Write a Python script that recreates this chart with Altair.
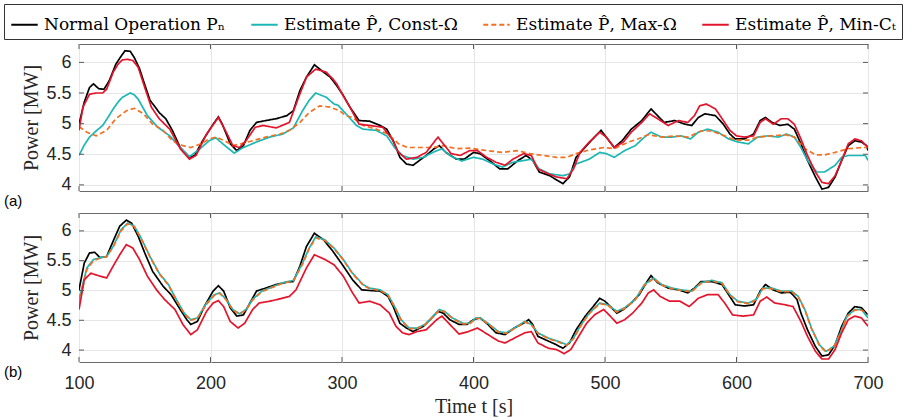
import altair as alt
import pandas as pd

# ---------------- data ----------------
SERIES = ["Normal Operation Pₙ", "Estimate P̂, Const-Ω", "Estimate P̂, Max-Ω", "Estimate P̂, Min-Cₜ"]
COLORS = ["#000000", "#1bb7b4", "#f4701e", "#e3142b"]
DASHES = [[1, 0], [1, 0], [5, 3], [1, 0]]
X_TICKS = [100, 200, 300, 400, 500, 600, 700]
Y_TICKS = [4, 4.5, 5, 5.5, 6]

# Panel (a)
a_norm_t = [100, 104, 108, 111, 115, 119, 123, 128, 132, 135, 139, 142, 146, 149, 154, 158, 161, 166, 171, 177, 184, 188, 194, 202, 206, 209, 215, 220, 225, 230, 235, 242, 250, 258, 263, 268, 273, 279, 286, 291, 296, 301, 306, 313, 321, 329, 334, 339, 344, 349, 354, 359, 364, 370, 374, 379, 387, 393, 400, 405, 412, 420, 426, 434, 440, 445, 450, 458, 464, 468, 473, 478, 486, 492, 497, 502, 507, 513, 520, 528, 535, 540, 545, 553, 561, 566, 571, 576, 584, 590, 595, 599, 606, 613, 618, 622, 627, 633, 639, 644, 649, 654, 660, 665, 670, 675, 680, 685, 690, 695, 699, 700]
a_norm_p = [4.99, 5.35, 5.59, 5.65, 5.57, 5.56, 5.70, 5.97, 6.10, 6.19, 6.18, 6.08, 5.90, 5.70, 5.38, 5.27, 5.18, 5.08, 4.89, 4.61, 4.45, 4.48, 4.72, 4.99, 5.11, 4.99, 4.67, 4.56, 4.64, 4.89, 5.02, 5.05, 5.08, 5.13, 5.21, 5.54, 5.76, 5.96, 5.84, 5.76, 5.62, 5.46, 5.27, 5.05, 5.04, 4.97, 4.91, 4.72, 4.45, 4.34, 4.32, 4.40, 4.48, 4.59, 4.64, 4.53, 4.42, 4.42, 4.53, 4.51, 4.40, 4.26, 4.26, 4.40, 4.48, 4.40, 4.21, 4.15, 4.07, 4.02, 4.13, 4.45, 4.64, 4.78, 4.89, 4.75, 4.61, 4.72, 4.91, 5.05, 5.24, 5.13, 5.02, 5.05, 4.99, 4.97, 5.10, 5.16, 5.13, 4.99, 4.83, 4.75, 4.75, 4.83, 5.05, 5.10, 5.02, 4.97, 4.99, 4.91, 4.67, 4.40, 4.13, 3.93, 3.96, 4.13, 4.40, 4.64, 4.72, 4.70, 4.64, 4.56]

a_const_t = [100, 104, 108, 113, 118, 122, 126, 130, 133, 139, 142, 145, 152, 160, 169, 177, 184, 192, 199, 204, 211, 218, 225, 235, 245, 255, 263, 270, 275, 280, 288, 294, 297, 303, 311, 316, 326, 334, 340, 346, 354, 362, 369, 376, 382, 391, 400, 407, 415, 422, 430, 439, 444, 450, 458, 468, 473, 478, 488, 496, 501, 507, 515, 523, 530, 535, 543, 551, 558, 565, 571, 578, 586, 594, 601, 609, 616, 624, 632, 638, 644, 649, 654, 661, 667, 675, 680, 685, 693, 698, 700]
a_const_p = [4.48, 4.65, 4.78, 4.88, 4.97, 5.10, 5.24, 5.36, 5.43, 5.50, 5.47, 5.40, 5.13, 4.94, 4.80, 4.61, 4.46, 4.59, 4.72, 4.77, 4.64, 4.52, 4.61, 4.70, 4.78, 4.83, 4.93, 5.21, 5.38, 5.50, 5.43, 5.32, 5.30, 5.16, 4.97, 4.91, 4.89, 4.80, 4.61, 4.48, 4.42, 4.45, 4.53, 4.59, 4.48, 4.39, 4.45, 4.42, 4.34, 4.29, 4.37, 4.40, 4.42, 4.26, 4.18, 4.15, 4.18, 4.34, 4.42, 4.53, 4.51, 4.45, 4.56, 4.64, 4.78, 4.86, 4.78, 4.78, 4.80, 4.75, 4.86, 4.91, 4.86, 4.75, 4.70, 4.67, 4.78, 4.80, 4.78, 4.83, 4.78, 4.61, 4.40, 4.21, 4.21, 4.32, 4.45, 4.48, 4.48, 4.48, 4.40]

a_max_t = [100, 106, 113, 121, 128, 136, 142, 149, 156, 164, 171, 179, 185, 193, 199, 204, 211, 217, 223, 232, 242, 253, 260, 268, 275, 283, 291, 298, 303, 308, 316, 326, 335, 343, 350, 359, 369, 377, 387, 397, 410, 422, 433, 443, 453, 463, 471, 478, 488, 499, 507, 518, 525, 533, 543, 553, 563, 573, 581, 591, 599, 609, 616, 627, 637, 644, 652, 660, 667, 675, 685, 695, 700]
a_max_p = [4.95, 4.86, 4.80, 4.89, 5.08, 5.21, 5.25, 5.16, 4.99, 4.89, 4.72, 4.64, 4.61, 4.67, 4.75, 4.78, 4.72, 4.64, 4.67, 4.72, 4.78, 4.83, 4.89, 5.02, 5.18, 5.29, 5.27, 5.21, 5.13, 5.10, 4.97, 4.91, 4.83, 4.67, 4.61, 4.61, 4.61, 4.64, 4.59, 4.60, 4.56, 4.53, 4.56, 4.51, 4.48, 4.45, 4.45, 4.51, 4.57, 4.61, 4.59, 4.70, 4.75, 4.82, 4.78, 4.80, 4.78, 4.88, 4.88, 4.80, 4.73, 4.73, 4.78, 4.80, 4.82, 4.78, 4.59, 4.49, 4.49, 4.53, 4.59, 4.61, 4.61]

a_minct_t = [100, 103, 108, 113, 118, 121, 126, 130, 133, 137, 141, 145, 150, 155, 161, 169, 177, 184, 189, 197, 206, 212, 217, 222, 227, 234, 240, 250, 260, 267, 273, 280, 288, 293, 296, 301, 306, 313, 321, 331, 338, 343, 349, 357, 364, 369, 373, 377, 383, 390, 397, 403, 410, 417, 424, 430, 438, 444, 449, 457, 463, 471, 476, 481, 488, 496, 501, 507, 514, 520, 528, 534, 540, 548, 556, 563, 568, 572, 577, 584, 590, 595, 600, 606, 613, 618, 622, 628, 634, 639, 644, 649, 654, 660, 665, 670, 675, 680, 685, 690, 695, 700]
a_minct_p = [4.89, 5.27, 5.48, 5.50, 5.50, 5.56, 5.84, 5.98, 6.04, 6.05, 6.03, 5.92, 5.59, 5.27, 5.08, 4.91, 4.59, 4.42, 4.48, 4.83, 5.10, 4.86, 4.64, 4.61, 4.72, 4.94, 4.97, 4.93, 5.02, 5.43, 5.76, 5.89, 5.84, 5.73, 5.65, 5.45, 5.27, 4.99, 4.97, 4.94, 4.75, 4.53, 4.42, 4.45, 4.53, 4.67, 4.78, 4.67, 4.51, 4.48, 4.56, 4.56, 4.45, 4.37, 4.32, 4.42, 4.51, 4.48, 4.26, 4.18, 4.13, 4.10, 4.26, 4.53, 4.70, 4.86, 4.78, 4.61, 4.70, 4.86, 5.02, 5.16, 5.08, 4.97, 5.05, 5.02, 5.13, 5.29, 5.32, 5.24, 5.05, 4.89, 4.80, 4.78, 4.80, 5.02, 5.08, 4.99, 5.08, 5.08, 4.99, 4.75, 4.48, 4.21, 4.04, 4.02, 4.15, 4.40, 4.67, 4.75, 4.72, 4.61]

# Panel (b)
b_norm_t = [100, 104, 108, 112, 116, 121, 126, 131, 136, 140, 145, 150, 156, 164, 170, 177, 182, 185, 190, 196, 202, 206, 210, 215, 220, 225, 230, 235, 242, 250, 258, 263, 268, 273, 279, 286, 293, 301, 308, 315, 321, 329, 335, 339, 344, 349, 354, 362, 367, 373, 377, 382, 389, 395, 400, 405, 411, 417, 424, 431, 438, 442, 445, 449, 457, 463, 468, 473, 478, 485, 491, 496, 500, 505, 509, 514, 520, 526, 532, 535, 540, 548, 556, 563, 568, 573, 581, 589, 594, 599, 606, 613, 618, 622, 628, 634, 641, 646, 649, 654, 660, 665, 670, 675, 680, 685, 690, 695, 700]
b_norm_p = [5.01, 5.46, 5.63, 5.64, 5.55, 5.57, 5.83, 6.08, 6.18, 6.13, 5.91, 5.63, 5.32, 5.07, 4.93, 4.68, 4.51, 4.43, 4.48, 4.76, 4.99, 5.08, 4.99, 4.71, 4.57, 4.59, 4.79, 4.99, 5.04, 5.10, 5.14, 5.15, 5.41, 5.74, 5.96, 5.85, 5.66, 5.41, 5.18, 5.01, 5.00, 4.99, 4.90, 4.73, 4.45, 4.37, 4.31, 4.40, 4.51, 4.65, 4.62, 4.51, 4.43, 4.43, 4.51, 4.54, 4.43, 4.29, 4.26, 4.37, 4.45, 4.51, 4.43, 4.23, 4.15, 4.09, 4.03, 4.12, 4.34, 4.57, 4.73, 4.87, 4.82, 4.71, 4.62, 4.68, 4.79, 4.93, 5.15, 5.25, 5.13, 5.04, 5.01, 4.96, 5.04, 5.15, 5.15, 5.10, 4.93, 4.76, 4.74, 4.76, 4.99, 5.10, 5.01, 4.96, 4.97, 4.85, 4.62, 4.34, 4.06, 3.90, 3.92, 4.09, 4.40, 4.62, 4.73, 4.71, 4.59]

b_const_t = [100, 106, 111, 116, 121, 126, 132, 137, 142, 147, 154, 161, 168, 174, 180, 185, 190, 197, 203, 207, 212, 217, 222, 227, 232, 239, 248, 255, 263, 270, 275, 280, 287, 294, 301, 308, 316, 321, 329, 335, 340, 345, 351, 357, 363, 368, 374, 378, 384, 392, 397, 402, 405, 411, 419, 425, 431, 439, 444, 449, 457, 464, 471, 476, 482, 488, 496, 502, 509, 515, 523, 530, 537, 543, 551, 558, 566, 573, 581, 589, 595, 601, 609, 615, 620, 627, 634, 642, 647, 652, 657, 663, 668, 674, 679, 684, 690, 695, 700]
b_const_p = [4.85, 5.38, 5.52, 5.55, 5.57, 5.74, 6.02, 6.13, 6.08, 5.89, 5.57, 5.29, 5.10, 4.85, 4.62, 4.51, 4.54, 4.79, 4.93, 4.96, 4.85, 4.68, 4.61, 4.68, 4.85, 4.99, 5.07, 5.13, 5.17, 5.46, 5.71, 5.90, 5.85, 5.71, 5.52, 5.29, 5.10, 5.04, 5.01, 4.93, 4.73, 4.51, 4.37, 4.37, 4.43, 4.54, 4.68, 4.65, 4.54, 4.45, 4.45, 4.54, 4.54, 4.45, 4.31, 4.29, 4.37, 4.48, 4.43, 4.29, 4.20, 4.15, 4.09, 4.20, 4.43, 4.62, 4.79, 4.76, 4.65, 4.71, 4.85, 5.10, 5.21, 5.10, 5.04, 5.01, 4.99, 5.13, 5.17, 5.13, 4.93, 4.82, 4.79, 4.85, 5.04, 5.04, 4.99, 4.99, 4.90, 4.68, 4.37, 4.09, 3.98, 4.06, 4.29, 4.57, 4.68, 4.68, 4.54]

b_max_t = [100, 106, 111, 116, 121, 126, 132, 137, 142, 147, 154, 161, 168, 174, 180, 185, 190, 197, 203, 207, 212, 217, 222, 227, 232, 239, 248, 255, 263, 270, 275, 280, 287, 294, 301, 308, 316, 321, 329, 335, 340, 345, 351, 357, 363, 368, 374, 378, 384, 392, 397, 402, 405, 411, 419, 425, 431, 439, 444, 449, 457, 464, 471, 476, 482, 488, 496, 502, 509, 515, 523, 530, 537, 543, 551, 558, 566, 573, 581, 589, 595, 601, 609, 615, 620, 627, 634, 642, 647, 652, 657, 663, 668, 674, 679, 684, 690, 695, 700]
b_max_p = [4.78, 5.35, 5.50, 5.54, 5.57, 5.73, 6.00, 6.12, 6.07, 5.88, 5.56, 5.28, 5.09, 4.84, 4.61, 4.50, 4.53, 4.77, 4.92, 4.95, 4.84, 4.67, 4.60, 4.67, 4.84, 4.98, 5.06, 5.12, 5.16, 5.44, 5.70, 5.88, 5.84, 5.70, 5.51, 5.28, 5.09, 5.03, 5.00, 4.92, 4.72, 4.50, 4.36, 4.36, 4.42, 4.53, 4.67, 4.64, 4.53, 4.44, 4.44, 4.53, 4.53, 4.44, 4.30, 4.28, 4.36, 4.47, 4.42, 4.28, 4.19, 4.14, 4.08, 4.19, 4.42, 4.61, 4.78, 4.75, 4.64, 4.70, 4.84, 5.09, 5.20, 5.09, 5.03, 5.00, 4.98, 5.12, 5.16, 5.12, 4.92, 4.81, 4.78, 4.84, 5.03, 5.03, 4.98, 4.98, 4.89, 4.67, 4.36, 4.08, 3.97, 4.05, 4.28, 4.56, 4.67, 4.67, 4.60]

b_minct_t = [100, 104, 109, 116, 121, 126, 131, 136, 141, 146, 152, 159, 165, 173, 179, 185, 190, 197, 202, 206, 210, 215, 221, 226, 232, 237, 245, 253, 260, 265, 273, 279, 287, 294, 301, 308, 313, 321, 329, 336, 341, 346, 351, 357, 364, 372, 376, 382, 389, 396, 403, 411, 419, 424, 431, 439, 444, 449, 457, 463, 469, 474, 480, 486, 492, 499, 504, 509, 515, 521, 528, 533, 537, 542, 549, 557, 564, 571, 578, 586, 591, 597, 605, 613, 618, 623, 629, 637, 643, 649, 654, 660, 665, 670, 675, 680, 685, 690, 695, 700]
b_minct_p = [4.68, 5.18, 5.29, 5.24, 5.21, 5.41, 5.60, 5.77, 5.71, 5.52, 5.24, 5.01, 4.85, 4.68, 4.43, 4.26, 4.34, 4.65, 4.79, 4.83, 4.73, 4.48, 4.37, 4.45, 4.68, 4.79, 4.82, 4.86, 4.90, 5.01, 5.38, 5.60, 5.52, 5.43, 5.24, 4.96, 4.79, 4.82, 4.76, 4.62, 4.40, 4.29, 4.26, 4.31, 4.34, 4.51, 4.57, 4.43, 4.27, 4.31, 4.37, 4.26, 4.15, 4.12, 4.20, 4.29, 4.31, 4.12, 4.03, 4.01, 3.94, 4.01, 4.23, 4.45, 4.59, 4.68, 4.57, 4.45, 4.51, 4.62, 4.79, 4.96, 5.01, 4.90, 4.82, 4.82, 4.73, 4.87, 4.93, 4.93, 4.79, 4.59, 4.57, 4.59, 4.82, 4.89, 4.79, 4.76, 4.73, 4.48, 4.23, 3.98, 3.85, 3.85, 4.01, 4.29, 4.51, 4.57, 4.54, 4.40]


def frame(ts, ps):
    rows = []
    for name, T, P in zip(SERIES, ts, ps):
        for t, p in zip(T, P):
            rows.append({"t": t, "p": p, "series": name})
    return pd.DataFrame(rows)


df_a = frame([a_norm_t, a_const_t, a_max_t, a_minct_t], [a_norm_p, a_const_p, a_max_p, a_minct_p])
df_b = frame([b_norm_t, b_const_t, b_max_t, b_minct_t], [b_norm_p, b_const_p, b_max_p, b_minct_p])

W = 789
HA = 147
HB = 149
TICK_COL = "#5a5a5a"

legend = alt.Legend(
    title=None, orient="none", legendX=-75, legendY=-40, direction="horizontal", columns=4,
    labelFont="DejaVu Serif", labelFontSize=17, labelColor="#000000", labelLimit=400,
    symbolType="stroke", symbolSize=700, symbolStrokeWidth=2.2, labelOffset=5,
    columnPadding=20, strokeColor="#333333", fillColor="white", padding=6, cornerRadius=0,
)


def panel(df, h, ydom, show_x, tag):
    xs = alt.Scale(domain=[100, 700], nice=False, zero=False)
    ys = alt.Scale(domain=ydom, nice=False, zero=False)
    x_axis = alt.Axis(values=X_TICKS, labels=show_x, title="Time t [s]" if show_x else None,
                      labelPadding=12, titlePadding=4, labelOverlap=False, labelFlush=False)
    y_axis = alt.Axis(values=Y_TICKS, format="~g", title="Power [MW]", labelPadding=8, titlePadding=4,
                      labelOverlap=False, labelFlush=False)
    lines = alt.Chart(df).mark_line(strokeWidth=1.7, clip=True).encode(
        x=alt.X("t:Q", scale=xs, axis=x_axis),
        y=alt.Y("p:Q", scale=ys, axis=y_axis),
        color=alt.Color("series:N", scale=alt.Scale(domain=SERIES, range=COLORS), legend=legend, sort=SERIES),
        strokeDash=alt.StrokeDash("series:N", scale=alt.Scale(domain=SERIES, range=DASHES), legend=legend, sort=SERIES),
        order=alt.Order("t:Q"),
    )
    xt = pd.DataFrame({"t": X_TICKS})
    yt = pd.DataFrame({"p": Y_TICKS})
    tb = alt.Chart(xt).mark_rule(color=TICK_COL, strokeWidth=1).encode(
        x=alt.X("t:Q", axis=x_axis), y=alt.value(h), y2=alt.value(h - 5))
    tt = alt.Chart(xt).mark_rule(color=TICK_COL, strokeWidth=1).encode(
        x=alt.X("t:Q", axis=x_axis), y=alt.value(0), y2=alt.value(5))
    tl = alt.Chart(yt).mark_rule(color=TICK_COL, strokeWidth=1).encode(
        y=alt.Y("p:Q", axis=y_axis), x=alt.value(0), x2=alt.value(5))
    tr = alt.Chart(yt).mark_rule(color=TICK_COL, strokeWidth=1).encode(
        y=alt.Y("p:Q", axis=y_axis), x=alt.value(W - 5), x2=alt.value(W))
    lab = alt.Chart(pd.DataFrame({"lab": [tag]})).mark_text(
        font="Liberation Sans", fontSize=15, align="left", baseline="middle", color="#000000"
    ).encode(text="lab:N", x=alt.value(-75), y=alt.value(h + 10))
    return alt.layer(lines, tb, tt, tl, tr, lab).properties(width=W, height=h)


pa = panel(df_a, HA, [3.9, 6.3], False, "(a)")
pb = panel(df_b, HB, [3.8, 6.3], True, "(b)")

chart = alt.vconcat(pa, pb, spacing=22, bounds="flush").resolve_scale(y="independent").properties(
    padding={"left": 3, "top": 3, "right": 3, "bottom": 3},
).configure_view(
    stroke="#6a6a6a", strokeWidth=1
).configure_axis(
    grid=True, gridColor="#e6e6e6", gridWidth=1, domain=False, ticks=False, labelOverlap=False,
    labelFlush=False,
    labelFont="Liberation Sans", labelFontSize=18, labelColor="#262626",
    titleFont="Liberation Serif", titleFontSize=20, titleFontWeight="normal", titleColor="#262626",
)

chart.save("out.html", embed_options={"renderer": "svg", "actions": False})
